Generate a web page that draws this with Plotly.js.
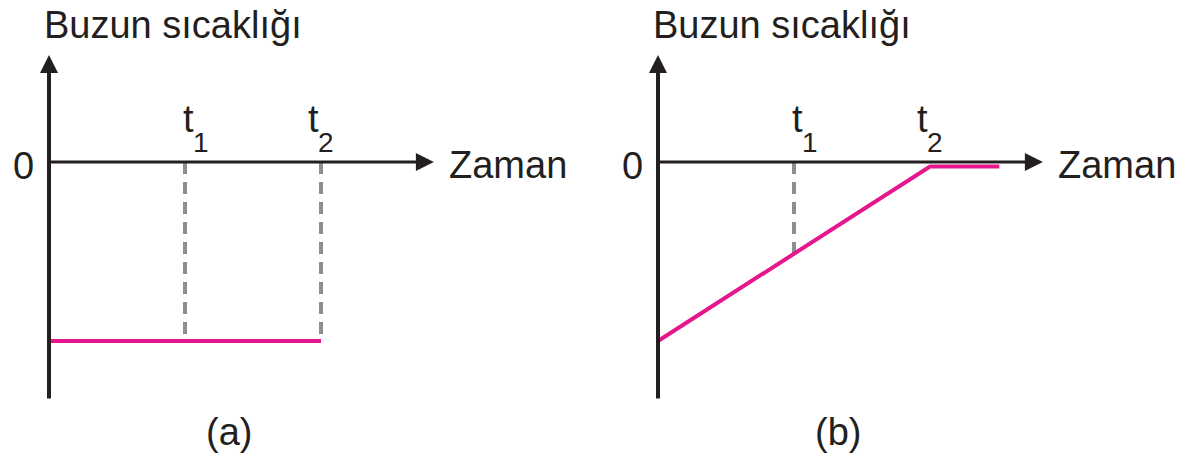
<!DOCTYPE html>
<html>
<head>
<meta charset="utf-8">
<script src="https://cdn.plot.ly/plotly-3.0.1.min.js"></script>
<style>html,body{margin:0;padding:0;background:#fff;}</style>
</head>
<body>
<div id="chart" style="width:1189px;height:464px;"></div>
<script>
// ---- data ----
const panelLabels = ['(a)', '(b)'];
const yAxisTitle = 'Buzun sıcaklığı';
const xAxisTitle = 'Zaman';
const zeroLabel = '0';
const markTimes = [1, 2];          // t1, t2
const markSubs = ['1', '2'];
// panel (a): ice temperature stays constant from 0 to t2
const timeA = [0, 1, 2];
const tempA = [-1, -1, -1];
// panel (b): temperature rises to 0 at t2, then stays at 0
const timeB = [0, 1, 2, 2.51];
const tempB = [-1, -0.51, -0.025, -0.025];
// times where a dashed guide is dropped from the time axis
const guideTimesA = [1, 2];
const guideTimesB = [1];

// ---- style ----
const INK = '#231f20';
const MAG = '#e6168c';
const GUIDE = '#8e8e8e';
const FONT = 'Liberation Sans, Arial, Helvetica, sans-serif';
const FS = 38;
const Y_TOP = 0.598, Y_BOTTOM = -1.33, X_END = 2.83;
const TITLE_Y = 0.7626, LABEL_Y = -1.506, LABEL_X = 1.325;
const tNudge = [3, -8];

const panels = [
  {xa: 'x',  times: timeA, temps: tempA, guides: guideTimesA, label: panelLabels[0]},
  {xa: 'x2', times: timeB, temps: tempB, guides: guideTimesB, label: panelLabels[1]}
];

const traces = [];
const annotations = [];

panels.forEach(p => {
  p.guides.forEach(g => {
    const i = p.times.indexOf(g);
    traces.push({
      x: [g, g], y: [0, p.temps[i]], xaxis: p.xa, yaxis: 'y',
      mode: 'lines', hoverinfo: 'skip',
      line: {color: GUIDE, width: 4, dash: '12px,8px'}
    });
  });
  traces.push({
    x: p.times, y: p.temps, xaxis: p.xa, yaxis: 'y',
    mode: 'lines', hoverinfo: 'skip',
    line: {color: MAG, width: 4}
  });

  const base = {xref: p.xa, yref: 'y', axref: p.xa, ayref: 'y', showarrow: true,
                arrowcolor: INK, arrowhead: 2, text: ''};
  // vertical axis arrow
  annotations.push(Object.assign({}, base, {x: 0, y: Y_TOP, ax: 0, ay: Y_BOTTOM, arrowwidth: 4, arrowsize: 0.9}));
  // horizontal axis arrow
  annotations.push(Object.assign({}, base, {x: X_END, y: 0, ax: 0, ay: 0, arrowwidth: 3, arrowsize: 1.2}));

  const txt = {xref: p.xa, yref: 'y', showarrow: false, font: {family: FONT, size: FS, color: INK}};
  annotations.push(Object.assign({}, txt, {x: -0.048, y: TITLE_Y, text: yAxisTitle, xanchor: 'left', yanchor: 'middle'}));
  annotations.push(Object.assign({}, txt, {x: 2.93, y: 0, text: xAxisTitle, xanchor: 'left', yanchor: 'middle', yshift: -3}));
  annotations.push(Object.assign({}, txt, {x: 0, y: 0, text: zeroLabel, xanchor: 'right', yanchor: 'middle', xshift: -13, yshift: -3.5}));
  annotations.push(Object.assign({}, txt, {x: LABEL_X, y: LABEL_Y, text: p.label, xanchor: 'center', yanchor: 'middle'}));
  markTimes.forEach((t, i) => {
    annotations.push(Object.assign({}, txt, {x: t, y: 0, text: 't', xanchor: 'center', yanchor: 'middle', xshift: tNudge[i], yshift: 42.6}));
    annotations.push(Object.assign({}, txt, {x: t, y: 0, text: markSubs[i], xanchor: 'center', yanchor: 'middle',
      xshift: tNudge[i] + 13, yshift: 20, font: {family: FONT, size: 28, color: INK}}));
  });
});

const hidden = {visible: false, showgrid: false, zeroline: false, showticklabels: false, fixedrange: true};
const layout = {
  width: 1189, height: 464,
  margin: {l: 0, r: 0, t: 0, b: 0, pad: 0},
  paper_bgcolor: '#ffffff', plot_bgcolor: 'rgba(0,0,0,0)',
  showlegend: false,
  xaxis: Object.assign({}, hidden, {domain: [0, 0.5], range: [-49 / 136, (594.5 - 49) / 136], anchor: 'y'}),
  xaxis2: Object.assign({}, hidden, {domain: [0.5, 1], range: [(594.5 - 658) / 136, (1189 - 658) / 136], anchor: 'y'}),
  yaxis: Object.assign({}, hidden, {domain: [0, 1], range: [-302 / 179, 162 / 179]}),
  annotations: annotations
};

Plotly.newPlot('chart', traces, layout, {staticPlot: true, displayModeBar: false});
</script>
</body>
</html>
